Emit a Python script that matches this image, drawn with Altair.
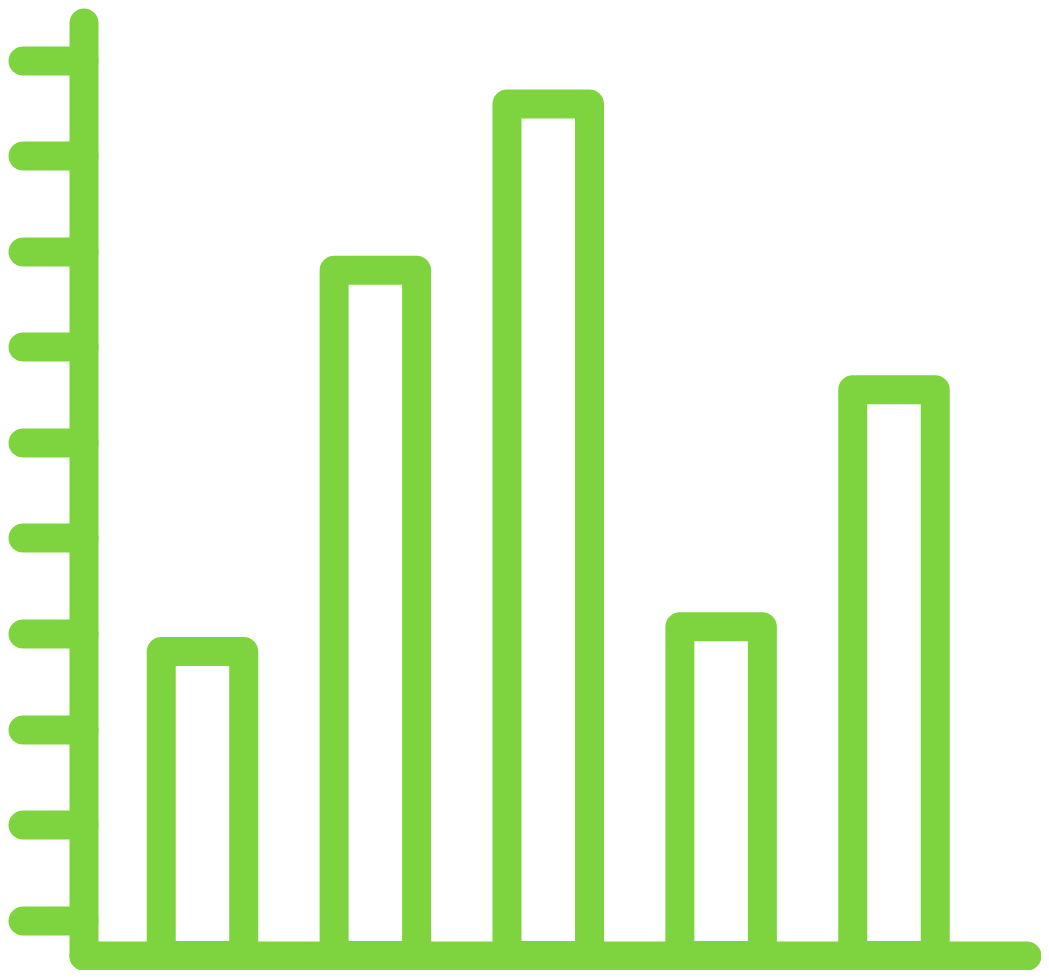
import altair as alt
import pandas as pd

# Data (value 0 = the baseline)
categories = ["A", "B", "C", "D", "E"]
values = [3.18, 7.17, 8.91, 3.44, 5.92]
tick_values = [0.37, 1.37, 2.37, 3.37, 4.37, 5.37, 6.37, 7.37, 8.37, 9.37]

GREEN = "#7ED43F"
SW = 29

df = pd.DataFrame({"cat": categories, "value": values})

chart = (
    alt.Chart(df)
    .mark_bar(fill="white", stroke=GREEN, strokeWidth=SW, strokeJoin="round")
    .encode(
        x=alt.X(
            "cat:N",
            sort=categories,
            scale=alt.Scale(paddingInner=0.5228, paddingOuter=0.4888, align=0.46, round=False),
            axis=alt.Axis(
                title=None, labels=False, ticks=False, grid=False,
                domain=True, domainColor=GREEN, domainWidth=SW, domainCap="round",
                zindex=1,
            ),
        ),
        y=alt.Y(
            "value:Q",
            scale=alt.Scale(domain=[0, 9.763], nice=False, zero=True),
            axis=alt.Axis(
                title=None, labels=False, grid=False, values=tick_values,
                domain=True, domainColor=GREEN, domainWidth=SW, domainCap="round",
                ticks=True, tickColor=GREEN, tickWidth=SW, tickSize=61, tickCap="round",
                zindex=1,
            ),
        ),
    )
    .properties(
        width=943,
        height=933,
        autosize=alt.AutoSizeParams(type="none"),
        padding={"left": 75.5, "top": 14.5, "right": 14.5, "bottom": 14.5},
        background="white",
    )
    .configure_view(stroke=None)
)

chart.save("out.html", embed_options={"renderer": "svg", "actions": False})
